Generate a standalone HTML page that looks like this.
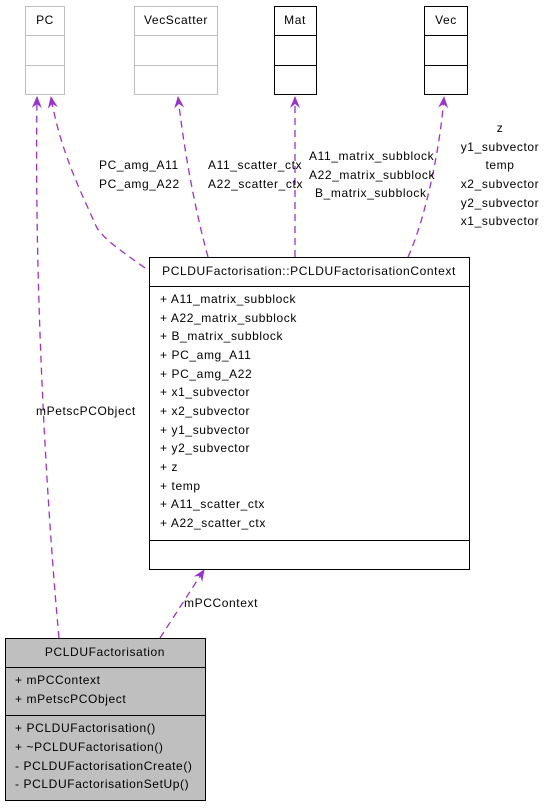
<!DOCTYPE html>
<html><head><meta charset="utf-8"><style>
html,body{margin:0;padding:0;background:#fff;}
svg{display:block;font-family:"Liberation Sans",sans-serif;font-size:12px;letter-spacing:0.6px;}
</style></head><body>
<svg width="547" height="808" viewBox="0 0 547 808" xmlns="http://www.w3.org/2000/svg">
<defs>
<marker id="a" viewBox="0 0 12 12" refX="11" refY="6" markerWidth="12" markerHeight="12" markerUnits="userSpaceOnUse" orient="auto">
<path d="M0,1 L12,6 L0,11 L4,6 Z" fill="#9a32cd"/>
</marker>
</defs>
<g fill="none" stroke="#9a32cd" stroke-width="1.3" stroke-dasharray="7,5">
<path d="M59,638 C48,520 34,300 37,97" marker-end="url(#a)"/>
<path d="M145,268 C120,250 105,240 97,228 C80,190 60,150 51,97" marker-end="url(#a)"/>
<path d="M208,257 C195,210 184,150 178,97" marker-end="url(#a)"/>
<path d="M295,257 L295,97" marker-end="url(#a)"/>
<path d="M408,257 C425,220 440,150 444,97" marker-end="url(#a)"/>
<path d="M160,638 L204,570" marker-end="url(#a)"/>
</g>
<g fill="#fff" stroke="#bfbfbf" stroke-width="1">
<rect x="25.5" y="6.5" width="39" height="88"/><line x1="25" y1="35.5" x2="65" y2="35.5"/><line x1="25" y1="65.5" x2="65" y2="65.5"/>
<rect x="134.5" y="6.5" width="83" height="88"/><line x1="134" y1="35.5" x2="218" y2="35.5"/><line x1="134" y1="65.5" x2="218" y2="65.5"/>
</g>
<g fill="#fff" stroke="#000" stroke-width="1">
<rect x="274.5" y="6.5" width="42" height="88"/><line x1="274" y1="35.5" x2="317" y2="35.5"/><line x1="274" y1="65.5" x2="317" y2="65.5"/>
<rect x="424.5" y="6.5" width="43" height="88"/><line x1="424" y1="35.5" x2="468" y2="35.5"/><line x1="424" y1="65.5" x2="468" y2="65.5"/>
</g>
<g fill="#000" text-anchor="middle">
<text x="45" y="24">PC</text>
<text x="176" y="24">VecScatter</text>
<text x="295" y="24">Mat</text>
<text x="446" y="24">Vec</text>
</g>
<g fill="#000">
<text x="99" y="169">PC_amg_A11</text>
<text x="99" y="188">PC_amg_A22</text>
<text x="208" y="169">A11_scatter_ctx</text>
<text x="208" y="188">A22_scatter_ctx</text>
<text x="309" y="160">A11_matrix_subblock</text>
<text x="309" y="179">A22_matrix_subblock</text>
<text x="315" y="197">B_matrix_subblock</text>
<text x="36" y="415">mPetscPCObject</text>
<text x="184" y="607">mPCContext</text>
</g>
<g fill="#000" text-anchor="middle">
<text x="500" y="132">z</text>
<text x="500" y="151">y1_subvector</text>
<text x="500" y="169">temp</text>
<text x="500" y="188">x2_subvector</text>
<text x="500" y="207">y2_subvector</text>
<text x="500" y="225">x1_subvector</text>
</g>
<g fill="#fff" stroke="#000" stroke-width="1">
<rect x="149.5" y="257.5" width="320" height="312"/>
<line x1="149" y1="286.5" x2="470" y2="286.5"/>
<line x1="149" y1="540.5" x2="470" y2="540.5"/>
</g>
<text x="309" y="275" text-anchor="middle">PCLDUFactorisation::PCLDUFactorisationContext</text>
<g fill="#000">
<text x="160" y="303">+ A11_matrix_subblock</text>
<text x="160" y="322">+ A22_matrix_subblock</text>
<text x="160" y="340">+ B_matrix_subblock</text>
<text x="160" y="359">+ PC_amg_A11</text>
<text x="160" y="378">+ PC_amg_A22</text>
<text x="160" y="396">+ x1_subvector</text>
<text x="160" y="415">+ x2_subvector</text>
<text x="160" y="434">+ y1_subvector</text>
<text x="160" y="452">+ y2_subvector</text>
<text x="160" y="471">+ z</text>
<text x="160" y="490">+ temp</text>
<text x="160" y="508">+ A11_scatter_ctx</text>
<text x="160" y="527">+ A22_scatter_ctx</text>
</g>
<g fill="#bfbfbf" stroke="#000" stroke-width="1">
<rect x="5.5" y="638.5" width="200" height="162"/>
<line x1="5" y1="667.5" x2="206" y2="667.5"/>
<line x1="5" y1="715.5" x2="206" y2="715.5"/>
</g>
<text x="105" y="656" text-anchor="middle">PCLDUFactorisation</text>
<g fill="#000">
<text x="15" y="684">+ mPCContext</text>
<text x="15" y="703">+ mPetscPCObject</text>
<text x="15" y="732">+ PCLDUFactorisation()</text>
<text x="15" y="751">+ ~PCLDUFactorisation()</text>
<text x="15" y="770">- PCLDUFactorisationCreate()</text>
<text x="15" y="788">- PCLDUFactorisationSetUp()</text>
</g>
</svg>
</body></html>
